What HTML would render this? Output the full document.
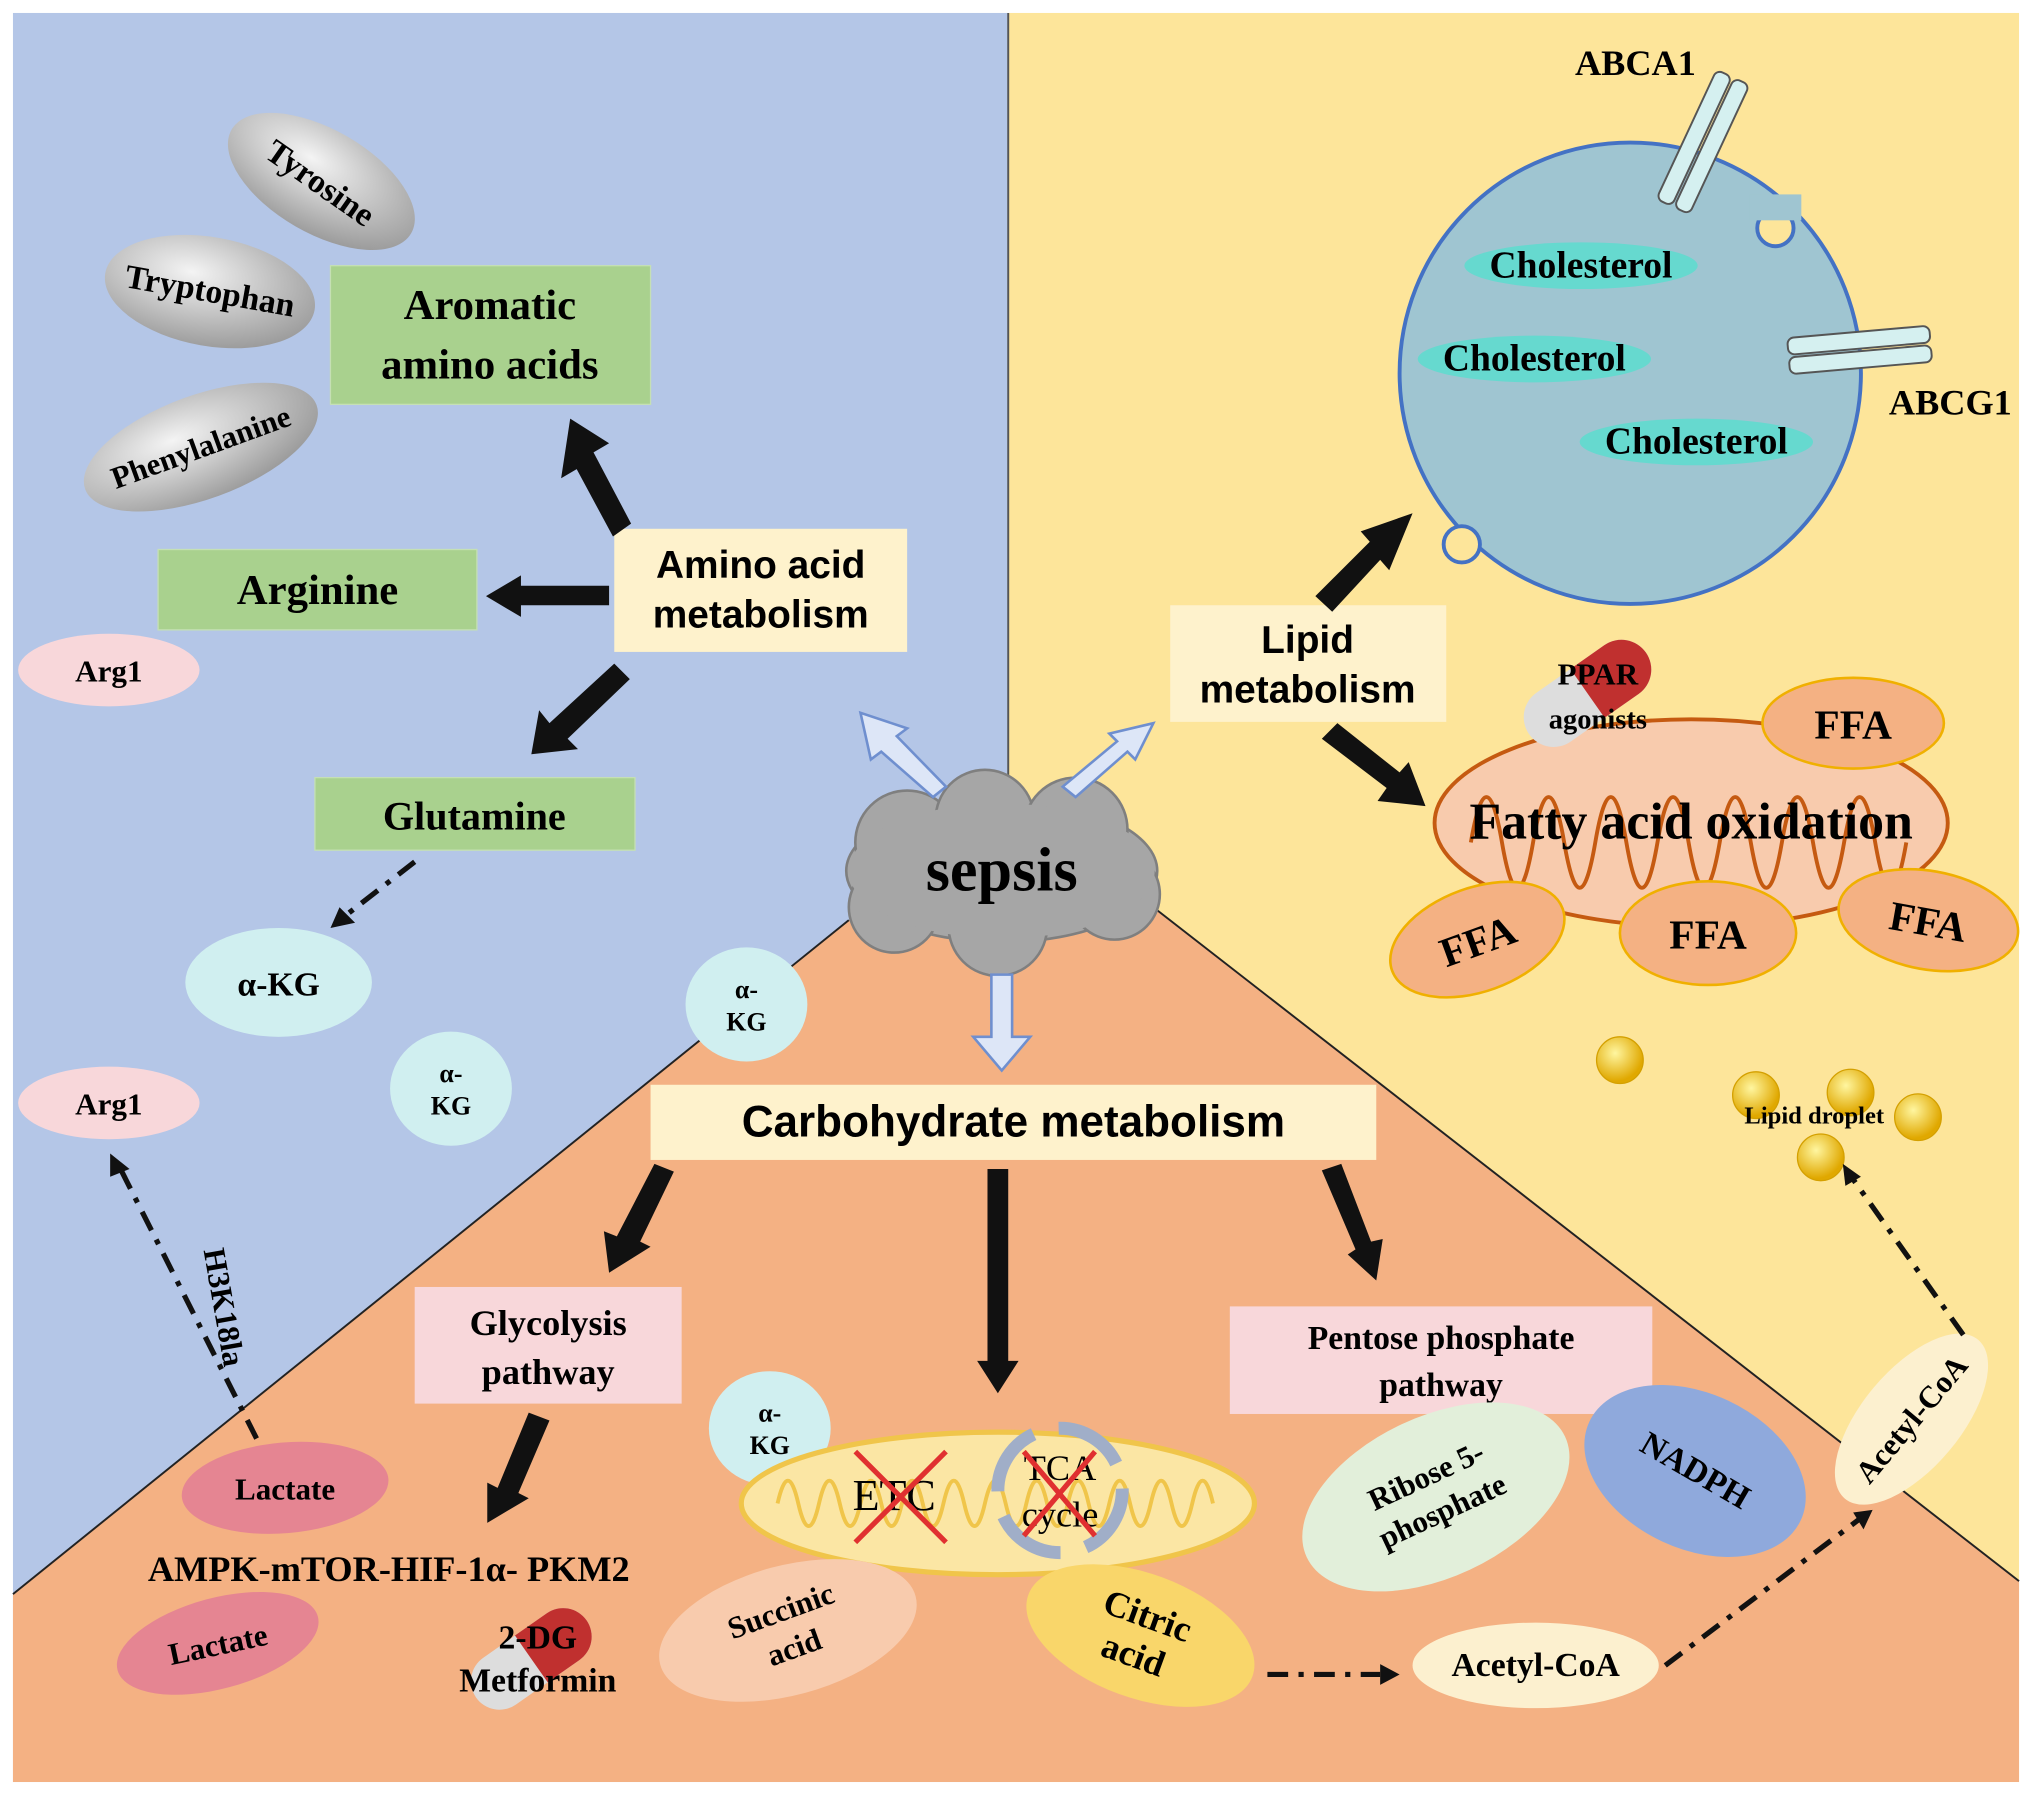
<!DOCTYPE html>
<html><head><meta charset="utf-8"><style>html,body{margin:0;padding:0;background:#fff}svg{display:block}</style></head><body>
<svg width="2032" height="1795" viewBox="0 0 1568 1385" preserveAspectRatio="none" xmlns="http://www.w3.org/2000/svg">
<defs>
<radialGradient id="gy" cx="0.4" cy="0.35" r="0.6"><stop offset="0" stop-color="#fff6a0"/><stop offset="1" stop-color="#e0a800"/></radialGradient>
<radialGradient id="gg" cx="0.4" cy="0.35" r="0.7"><stop offset="0" stop-color="#f4f4f4"/><stop offset="1" stop-color="#999"/></radialGradient>
</defs>
<rect width="1568" height="1385" fill="#fff"/>
<rect x="10" y="10" width="768" height="1365" fill="#b4c6e7"/>
<rect x="778" y="10" width="780" height="1365" fill="#fde59a"/>
<polygon points="10,1230 655,710 890,700 1558,1220 1558,1375 10,1375" fill="#f4b183"/>
<line x1="10" y1="1230" x2="655" y2="710" stroke="#222" stroke-width="1.5"/>
<line x1="890" y1="700" x2="1558" y2="1220" stroke="#222" stroke-width="1.5"/>
<line x1="778" y1="10" x2="778" y2="620" stroke="#555" stroke-width="1.5"/>
<g font-family="Liberation Serif, serif" font-weight="bold" text-anchor="middle">
<ellipse cx="248" cy="140" rx="80" ry="40" transform="rotate(30 248 140)" fill="url(#gg)"/>
<text x="248" y="150" font-size="26" transform="rotate(35 248 140)">Tyrosine</text>
<ellipse cx="162" cy="225" rx="82" ry="42" transform="rotate(10 162 225)" fill="url(#gg)"/>
<text x="162" y="233" font-size="26" transform="rotate(10 162 225)">Tryptophan</text>
<ellipse cx="155" cy="345" rx="95" ry="40" transform="rotate(-20 155 345)" fill="url(#gg)"/>
<text x="155" y="353" font-size="24" transform="rotate(-20 155 345)">Phenylalanine</text>
<rect x="255" y="205" width="247" height="107" fill="#a9d18e" stroke="#c5e0b4"/>
<text x="378" y="246" font-size="33">Aromatic</text><text x="378" y="292" font-size="33">amino acids</text>
<rect x="122" y="424" width="246" height="62" fill="#a9d18e" stroke="#c5e0b4"/>
<text x="245" y="466" font-size="33">Arginine</text>
<rect x="243" y="600" width="247" height="56" fill="#a9d18e" stroke="#c5e0b4"/>
<text x="366" y="640" font-size="31">Glutamine</text>
<ellipse cx="84" cy="517" rx="70" ry="28" fill="#f8d7da"/><text x="84" y="526" font-size="24">Arg1</text>
<ellipse cx="84" cy="851" rx="70" ry="28" fill="#f8d7da"/><text x="84" y="860" font-size="24">Arg1</text>
<ellipse cx="215" cy="758" rx="72" ry="42" fill="#d0eff0"/><text x="215" y="768" font-size="26">α-KG</text>
<ellipse cx="348" cy="840" rx="47" ry="44" fill="#d0eff0"/><text x="348" y="835" font-size="20">α-</text><text x="348" y="860" font-size="20">KG</text>
<ellipse cx="576" cy="775" rx="47" ry="44" fill="#d0eff0"/><text x="576" y="770" font-size="20">α-</text><text x="576" y="795" font-size="20">KG</text>
<ellipse cx="594" cy="1102" rx="47" ry="44" fill="#d0eff0"/><text x="594" y="1097" font-size="20">α-</text><text x="594" y="1122" font-size="20">KG</text>
<text x="165" y="1010" font-size="24" transform="rotate(80 165 1010)">H3K18la</text>
<ellipse cx="220" cy="1148" rx="80" ry="35" transform="rotate(-5 220 1148)" fill="#e58592"/><text x="220" y="1157" font-size="24">Lactate</text>
<ellipse cx="168" cy="1268" rx="80" ry="35" transform="rotate(-15 168 1268)" fill="#e58592"/><text x="168" y="1277" font-size="24" transform="rotate(-12 168 1268)">Lactate</text>
<text x="300" y="1220" font-size="28">AMPK-mTOR-HIF-1α- PKM2</text>
<rect x="320" y="993" width="206" height="90" fill="#f8d7da"/>
<text x="423" y="1030" font-size="28">Glycolysis</text><text x="423" y="1068" font-size="28">pathway</text>
<g transform="rotate(-35 410 1280)"><rect x="358" y="1258" width="104" height="44" rx="22" fill="#ddd"/><path d="M410 1258 H440 A22 22 0 0 1 440 1302 H410 Z" fill="#c0302f"/></g>
<text x="415" y="1272" font-size="26">2-DG</text><text x="415" y="1305" font-size="26">Metformin</text>
<ellipse cx="770" cy="1160" rx="198" ry="55" fill="#fbe6a4" stroke="#f0c54a" stroke-width="4"/>
<path d="M600 1160 q8 -35 16 0 q8 35 16 0 q8 -35 16 0 q8 35 16 0 q8 -35 16 0 q8 35 16 0 q8 -35 16 0 q8 35 16 0 q8 -35 16 0 q8 35 16 0 q8 -35 16 0 q8 35 16 0 q8 -35 16 0 q8 35 16 0 q8 -35 16 0 q8 35 16 0 q8 -35 16 0 q8 35 16 0 q8 -35 16 0 q8 35 16 0 q8 -35 16 0" fill="none" stroke="#f0c54a" stroke-width="3"/>
<circle cx="818" cy="1150" r="48" fill="none" stroke="#a0aec8" stroke-width="10" stroke-dasharray="55 20"/>
<text x="690" y="1165" font-size="34" font-weight="normal">ETC</text>
<text x="818" y="1142" font-size="28" font-weight="normal">TCA</text><text x="818" y="1178" font-size="28" font-weight="normal">cycle</text>
<path d="M660 1120 L730 1190 M730 1120 L660 1190 M790 1120 L845 1185 M845 1120 L790 1185" stroke="#e03030" stroke-width="4"/>
<ellipse cx="608" cy="1258" rx="102" ry="50" transform="rotate(-15 608 1258)" fill="#f8cbad"/>
<text x="608" y="1250" font-size="24" transform="rotate(-20 608 1258)">Succinic</text><text x="608" y="1280" font-size="24" transform="rotate(-20 608 1258)">acid</text>
<ellipse cx="880" cy="1262" rx="92" ry="48" transform="rotate(20 880 1262)" fill="#f9d66a"/>
<text x="880" y="1255" font-size="28" transform="rotate(20 880 1262)">Citric</text><text x="880" y="1287" font-size="28" transform="rotate(20 880 1262)">acid</text>
<ellipse cx="1185" cy="1285" rx="95" ry="33" fill="#fcf0cf"/><text x="1185" y="1293" font-size="26">Acetyl-CoA</text>
<rect x="949" y="1008" width="326" height="83" fill="#f8d7da"/>
<text x="1112" y="1041" font-size="26">Pentose phosphate</text><text x="1112" y="1077" font-size="26">pathway</text>
<ellipse cx="1108" cy="1155" rx="110" ry="62" transform="rotate(-25 1108 1155)" fill="#e2efda"/>
<text x="1108" y="1145" font-size="24" transform="rotate(-25 1108 1155)">Ribose 5-</text><text x="1108" y="1175" font-size="24" transform="rotate(-25 1108 1155)">phosphate</text>
<ellipse cx="1308" cy="1135" rx="90" ry="60" transform="rotate(25 1308 1135)" fill="#8fa9dc"/>
<text x="1308" y="1143" font-size="26" transform="rotate(30 1308 1135)">NADPH</text>
<ellipse cx="1475" cy="1095" rx="80" ry="38" transform="rotate(-50 1475 1095)" fill="#fcf0cf"/>
<text x="1475" y="1103" font-size="24" transform="rotate(-50 1475 1095)">Acetyl-CoA</text>
<circle cx="1258" cy="288" r="178" fill="#9fc5d1" stroke="#4472c4" stroke-width="3"/>
<circle cx="1370" cy="176" r="14" fill="#fde59a" stroke="#4472c4" stroke-width="3"/>
<circle cx="1128" cy="420" r="14" fill="#fde59a" stroke="#4472c4" stroke-width="3"/>
<rect x="1350" y="150" width="40" height="20" fill="#9fc5d1"/>
<g fill="#d5f0f0" stroke="#555" stroke-width="1.5">
<g transform="rotate(25 1315 110)"><rect x="1300" y="55" width="13" height="110" rx="5"/><rect x="1315" y="55" width="13" height="110" rx="5"/></g>
<g transform="rotate(-5 1435 270)"><rect x="1380" y="256" width="110" height="13" rx="5"/><rect x="1380" y="271" width="110" height="13" rx="5"/></g>
</g>
<text x="1262" y="58" font-size="28">ABCA1</text><text x="1505" y="320" font-size="28">ABCG1</text>
<g font-size="29"><ellipse cx="1220" cy="205" rx="90" ry="18" fill="#66d9cf"/><text x="1220" y="214">Cholesterol</text>
<ellipse cx="1184" cy="277" rx="90" ry="18" fill="#66d9cf"/><text x="1184" y="286">Cholesterol</text>
<ellipse cx="1309" cy="341" rx="90" ry="18" fill="#66d9cf"/><text x="1309" y="350">Cholesterol</text></g>
<ellipse cx="1305" cy="635" rx="198" ry="80" fill="#f8cbad" stroke="#c55a11" stroke-width="3"/>
<path d="M1135 650 q12 -70 24 0 q12 70 24 0 q12 -70 24 0 q12 70 24 0 q12 -70 24 0 q12 70 24 0 q12 -70 24 0 q12 70 24 0 q12 -70 24 0 q12 70 24 0 q12 -70 24 0 q12 70 24 0 q12 -70 24 0 q12 70 24 0" fill="none" stroke="#c55a11" stroke-width="3"/>
<text x="1305" y="647" font-size="40">Fatty acid oxidation</text>
<g fill="#f4b183" stroke="#f0b000" stroke-width="2">
<ellipse cx="1430" cy="558" rx="70" ry="35"/><ellipse cx="1140" cy="725" rx="70" ry="40" transform="rotate(-20 1140 725)"/>
<ellipse cx="1318" cy="720" rx="68" ry="40"/><ellipse cx="1488" cy="710" rx="70" ry="38" transform="rotate(10 1488 710)"/></g>
<g font-size="32"><text x="1430" y="570">FFA</text><text x="1140" y="737" transform="rotate(-20 1140 725)">FFA</text><text x="1318" y="732">FFA</text><text x="1488" y="722" transform="rotate(10 1488 710)">FFA</text></g>
<g transform="rotate(-35 1225 535)"><rect x="1170" y="512" width="110" height="46" rx="23" fill="#ddd"/><path d="M1225 512 H1257 A23 23 0 0 1 1257 558 H1225 Z" fill="#c0302f"/></g>
<text x="1233" y="528" font-size="24">PPAR</text><text x="1233" y="562" font-size="22">agonists</text>
<g fill="url(#gy)" stroke="#d4a000"><circle cx="1250" cy="818" r="18"/><circle cx="1355" cy="845" r="18"/><circle cx="1428" cy="843" r="18"/><circle cx="1480" cy="862" r="18"/><circle cx="1405" cy="893" r="18"/></g>
<text x="1400" y="867" font-size="19">Lipid droplet</text>
</g>
<g fill="#a6a6a6" stroke="#7f7f7f" stroke-width="2">
<ellipse cx="773" cy="672" rx="120" ry="55"/><circle cx="700" cy="650" r="40"/><circle cx="760" cy="632" r="38"/><circle cx="830" cy="640" r="40"/><circle cx="860" cy="690" r="35"/><circle cx="690" cy="700" r="35"/><circle cx="770" cy="715" r="38"/></g>
<ellipse cx="773" cy="672" rx="118" ry="52" fill="#a6a6a6"/>
<text x="773" y="687" font-family="Liberation Serif, serif" font-weight="bold" font-size="48" text-anchor="middle">sepsis</text>
<g font-family="Liberation Sans, sans-serif" font-weight="bold" text-anchor="middle">
<rect x="474" y="408" width="226" height="95" fill="#fef2cc"/><text x="587" y="446" font-size="30">Amino acid</text><text x="587" y="484" font-size="30">metabolism</text>
<rect x="903" y="467" width="213" height="90" fill="#fef2cc"/><text x="1009" y="504" font-size="30">Lipid</text><text x="1009" y="542" font-size="30">metabolism</text>
<rect x="502" y="837" width="560" height="58" fill="#fef2cc"/><text x="782" y="877" font-size="34">Carbohydrate metabolism</text>
</g>
<g fill="#111">
<polygon points="487,404 473,414 445,362 433,369 440,323 470,342 458,349"/>
<polygon points="470,452 470,467 402,467 402,476 375,460 402,444 402,452"/>
<polygon points="474,512 486,524 438,570 446,578 410,582 416,548 424,558"/>
<polygon points="1015,460 1028,472 1065,432 1072,440 1090,396 1050,410 1057,418"/>
<polygon points="1020,570 1032,558 1080,596 1087,588 1100,622 1063,618 1070,608"/>
<polygon points="505,898 520,904 494,958 502,962 470,982 466,950 476,954"/>
<polygon points="762,902 778,902 778,1050 786,1050 770,1075 754,1050 762,1050"/>
<polygon points="1020,903 1035,898 1058,958 1067,956 1062,988 1040,968 1046,964"/>
<polygon points="408,1090 424,1096 400,1152 408,1156 376,1175 376,1144 384,1148"/>
</g>
<g fill="#dde6f7" stroke="#6f8fcf" stroke-width="2">
<polygon points="720,615 730,607 692,568 700,562 664,550 672,586 680,580"/>
<polygon points="820,607 830,615 870,580 876,586 890,558 856,566 862,572"/>
<polygon points="765,752 781,752 781,800 795,800 773,826 751,800 765,800"/>
</g>
<g stroke="#111" stroke-width="4" fill="none" stroke-dasharray="16 8 4 8">
<line x1="320" y1="665" x2="262" y2="710"/>
<line x1="198" y1="1110" x2="92" y2="900"/>
<line x1="978" y1="1292" x2="1065" y2="1292"/>
<line x1="1285" y1="1285" x2="1435" y2="1172"/>
<line x1="1515" y1="1030" x2="1430" y2="910"/>
</g>
<g fill="#111"><polygon points="255,716 262,700 274,712"/><polygon points="85,890 85,908 100,902"/><polygon points="1080,1292 1065,1284 1065,1300"/><polygon points="1445,1165 1430,1167 1438,1180"/><polygon points="1422,898 1424,915 1436,908"/></g>
</svg>
</body></html>
